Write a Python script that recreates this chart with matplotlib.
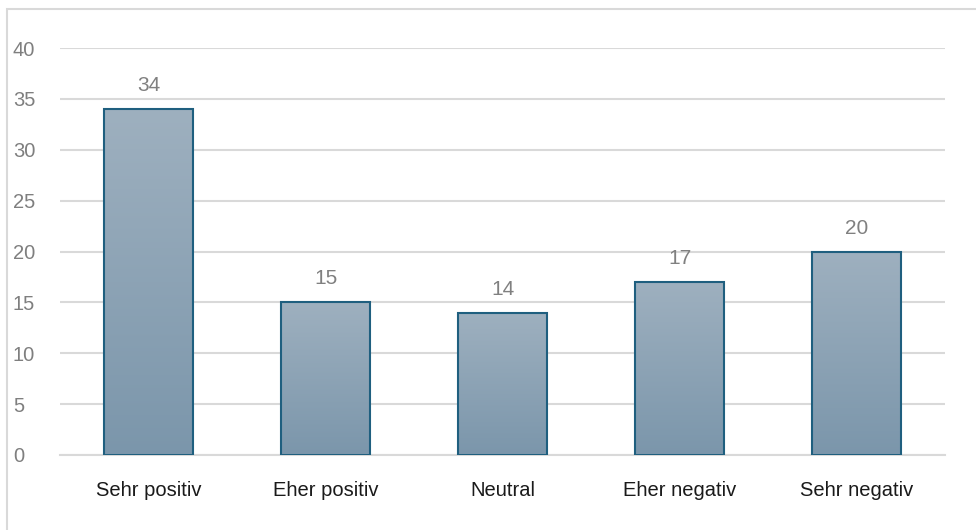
import numpy as np
import matplotlib
matplotlib.use("Agg")
import matplotlib.pyplot as plt
from matplotlib.patches import Rectangle
from matplotlib.colors import LinearSegmentedColormap

categories = ["Sehr positiv", "Eher positiv", "Neutral", "Eher negativ", "Sehr negativ"]
values = [34, 15, 14, 17, 20]
y_ticks = [0, 5, 10, 15, 20, 25, 30, 35, 40]

plt.rcParams['font.family'] = ['Liberation Sans', 'DejaVu Sans']

fig = plt.figure(figsize=(9.76, 5.3), dpi=100)
fig.patch.set_facecolor('white')
ax = fig.add_axes([60 / 976, 75 / 530, 885 / 976, 407 / 530])

# outer chart border (light grey frame)
fig.patches.append(Rectangle((7 / 976, -0.1), 1.2, 521 / 530 + 0.1,
                             transform=fig.transFigure, fill=False,
                             edgecolor='#d9d9d9', linewidth=1.5))

x = np.arange(len(categories))
bars = ax.bar(x, values, width=0.5, color='none', edgecolor='#1f5f7f',
              linewidth=1.5, zorder=3)

# vertical gradient fill clipped to each bar
cmap = LinearSegmentedColormap.from_list('bar', ['#7b96ab', '#9eb0bf'])
grad = np.linspace(0, 1, 256).reshape(-1, 1)
for b in bars:
    x0, w, h = b.get_x(), b.get_width(), b.get_height()
    im = ax.imshow(grad, cmap=cmap, origin='lower', aspect='auto',
                   extent=[x0, x0 + w, 0, h], zorder=2)
    im.set_clip_path(b)
    ax.text(x0 + w / 2, h + 2.3, str(int(h)), ha='center', va='center',
            fontsize=15, color='#808080')

ax.set_xlim(-0.5, len(categories) - 0.5)
ax.set_ylim(0, 40)
ax.set_yticks(y_ticks)
ax.set_xticks(x)
ax.set_xticklabels(categories)
ax.grid(axis='y', color='#d9d9d9', linewidth=1.5, zorder=0)
ax.set_axisbelow(True)
for s in ['top', 'right', 'left']:
    ax.spines[s].set_visible(False)
ax.spines['bottom'].set_color('#d9d9d9')
ax.spines['bottom'].set_linewidth(1.5)
ax.tick_params(axis='both', length=0)
ax.tick_params(axis='y', labelsize=14.5, labelcolor='#7f7f7f')
ax.tick_params(axis='x', labelsize=14.5, labelcolor='#1a1a1a', pad=19)
for lbl in ax.get_yticklabels():
    lbl.set_horizontalalignment('left')
ax.yaxis.set_tick_params(pad=34)

fig.savefig('out.png', dpi=100)
